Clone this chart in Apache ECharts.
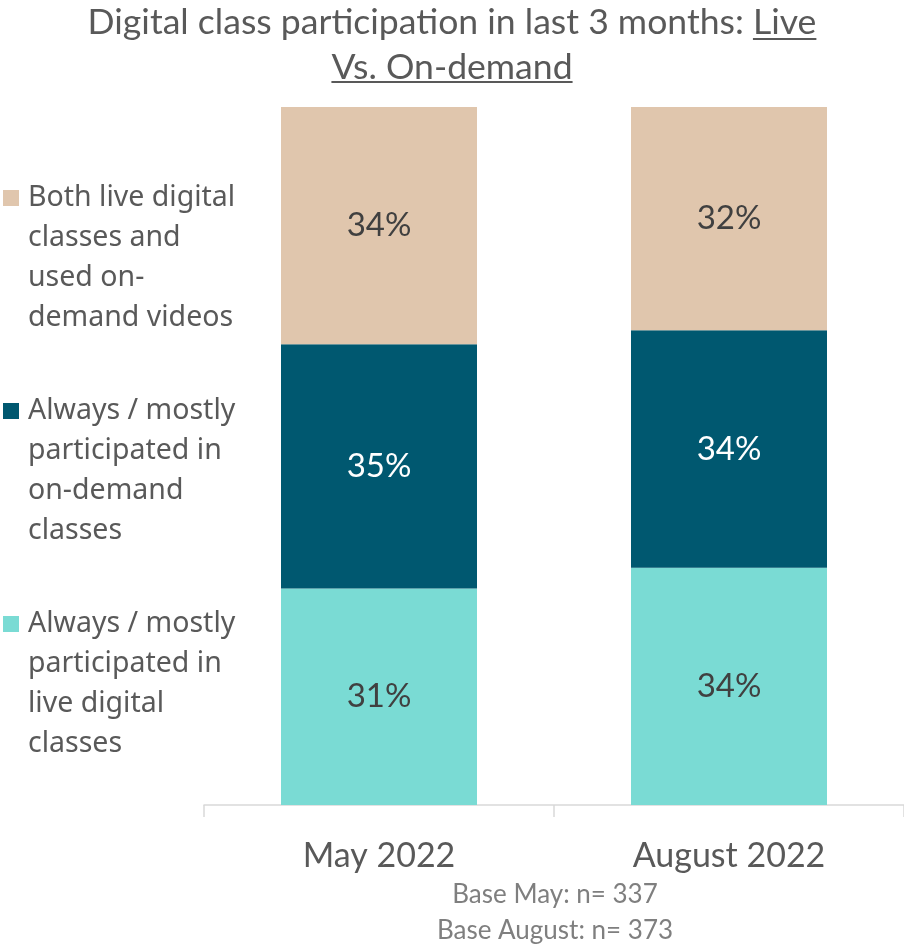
<!DOCTYPE html>
<html>
<head>
<meta charset="utf-8">
<script src="https://cdn.jsdelivr.net/npm/echarts@6/dist/echarts.min.js"></script>
<style>
  html, body { margin: 0; padding: 0; background: #ffffff; }
  #chart { width: 904px; height: 946px; }
</style>
</head>
<body>
<div id="chart"></div>
<script>
// Survey periods and the share of respondents in each participation group (%)
const periods = ['May 2022', 'August 2022'];
const liveShare = [31, 34];
const onDemandShare = [35, 34];
const bothShare = [34, 32];

const seriesNames = [
  'Always / mostly participated in live digital classes',
  'Always / mostly participated in on-demand classes',
  'Both live digital classes and used on-demand videos'
];
// Legend text, wrapped onto four lines each
const legendText = {
  'Both live digital classes and used on-demand videos': 'Both live digital\nclasses and\nused on-\ndemand videos',
  'Always / mostly participated in on-demand classes': 'Always / mostly\nparticipated in\non-demand\nclasses',
  'Always / mostly participated in live digital classes': 'Always / mostly\nparticipated in\nlive digital\nclasses'
};
const baseNotes = ['Base May: n= 337', 'Base August: n= 373'];

const titleLine1 = 'Digital class participation in last 3 months: ';
const titleUnderlined1 = 'Live';
const titleLine2 = 'Vs. On-demand';

const colors = { live: '#7adbd4', onDemand: '#005870', both: '#e0c6ad' };
const mainFont = 'Lato';
const titleSize = 35.6;
const textGrey = '#595959';

// Underlines beneath the emphasised part of the title, measured from the rendered font
function measure(str) {
  const ctx = document.createElement('canvas').getContext('2d');
  ctx.font = titleSize + 'px ' + mainFont;
  return ctx.measureText(str).width;
}
const cx = 452;
const w1 = measure(titleLine1 + titleUnderlined1);
const uStart1 = cx - w1 / 2 + measure(titleLine1);
const w2 = measure(titleLine2);
const line1Y = 39, line2Y = 82;

const chart = echarts.init(document.getElementById('chart'));

const makeSeries = (name, values, color, labelColor) => ({
  name: name,
  type: 'bar',
  stack: 'total',
  barWidth: 196,
  data: values,
  itemStyle: { color: color },
  label: {
    show: true,
    position: 'inside',
    formatter: '{c}%',
    fontFamily: mainFont,
    fontSize: 33,
    color: labelColor
  },
  emphasis: { disabled: true }
});

chart.setOption({
  animation: false,
  title: [
    {
      text: titleLine1 + titleUnderlined1 + '\n' + titleLine2,
      left: 'center',
      top: 0,
      padding: 0,
      textStyle: { fontFamily: mainFont, fontSize: titleSize, fontWeight: 'normal', color: textGrey, lineHeight: 45 }
    },
    {
      text: baseNotes.join('\n'),
      left: 555,
      top: 877,
      padding: 0,
      textAlign: 'center',
      textStyle: { fontFamily: mainFont, fontSize: 26, fontWeight: 'normal', color: '#7f7f7f', lineHeight: 36 }
    }
  ],
  legend: {
    orient: 'vertical',
    left: 3,
    top: 58,
    padding: 0,
    icon: 'rect',
    itemWidth: 16,
    itemHeight: 16,
    itemGap: -67,
    selectedMode: false,
    data: [seriesNames[2], seriesNames[1], seriesNames[0]],
    // three empty lines above keep the marker level with the first text line
    formatter: name => '\n\n\n' + legendText[name],
    textStyle: {
      fontFamily: 'Noto Sans',
      fontSize: 28.5,
      color: textGrey,
      lineHeight: 40,
      padding: [0, 0, 0, 4]
    }
  },
  grid: { left: 204, width: 702, top: 107, bottom: 141, containLabel: false },
  xAxis: {
    type: 'category',
    data: periods,
    axisLine: { lineStyle: { color: '#d9d9d9', width: 1.5 } },
    axisTick: { show: true, length: 12, lineStyle: { color: '#d9d9d9', width: 1.5 } },
    axisLabel: { fontFamily: mainFont, fontSize: 34, color: textGrey, margin: 31, lineHeight: 40 }
  },
  yAxis: { type: 'value', min: 0, max: 100, show: false },
  series: [
    makeSeries(seriesNames[0], liveShare, colors.live, '#404040'),
    makeSeries(seriesNames[1], onDemandShare, colors.onDemand, '#ffffff'),
    makeSeries(seriesNames[2], bothShare, colors.both, '#404040')
  ],
  graphic: [
    { type: 'line', silent: true, shape: { x1: uStart1, y1: line1Y, x2: uStart1 + measure(titleUnderlined1), y2: line1Y }, style: { stroke: textGrey, lineWidth: 2 } },
    { type: 'line', silent: true, shape: { x1: cx - w2 / 2, y1: line2Y, x2: cx + w2 / 2, y2: line2Y }, style: { stroke: textGrey, lineWidth: 2 } }
  ]
});
</script>
</body>
</html>
